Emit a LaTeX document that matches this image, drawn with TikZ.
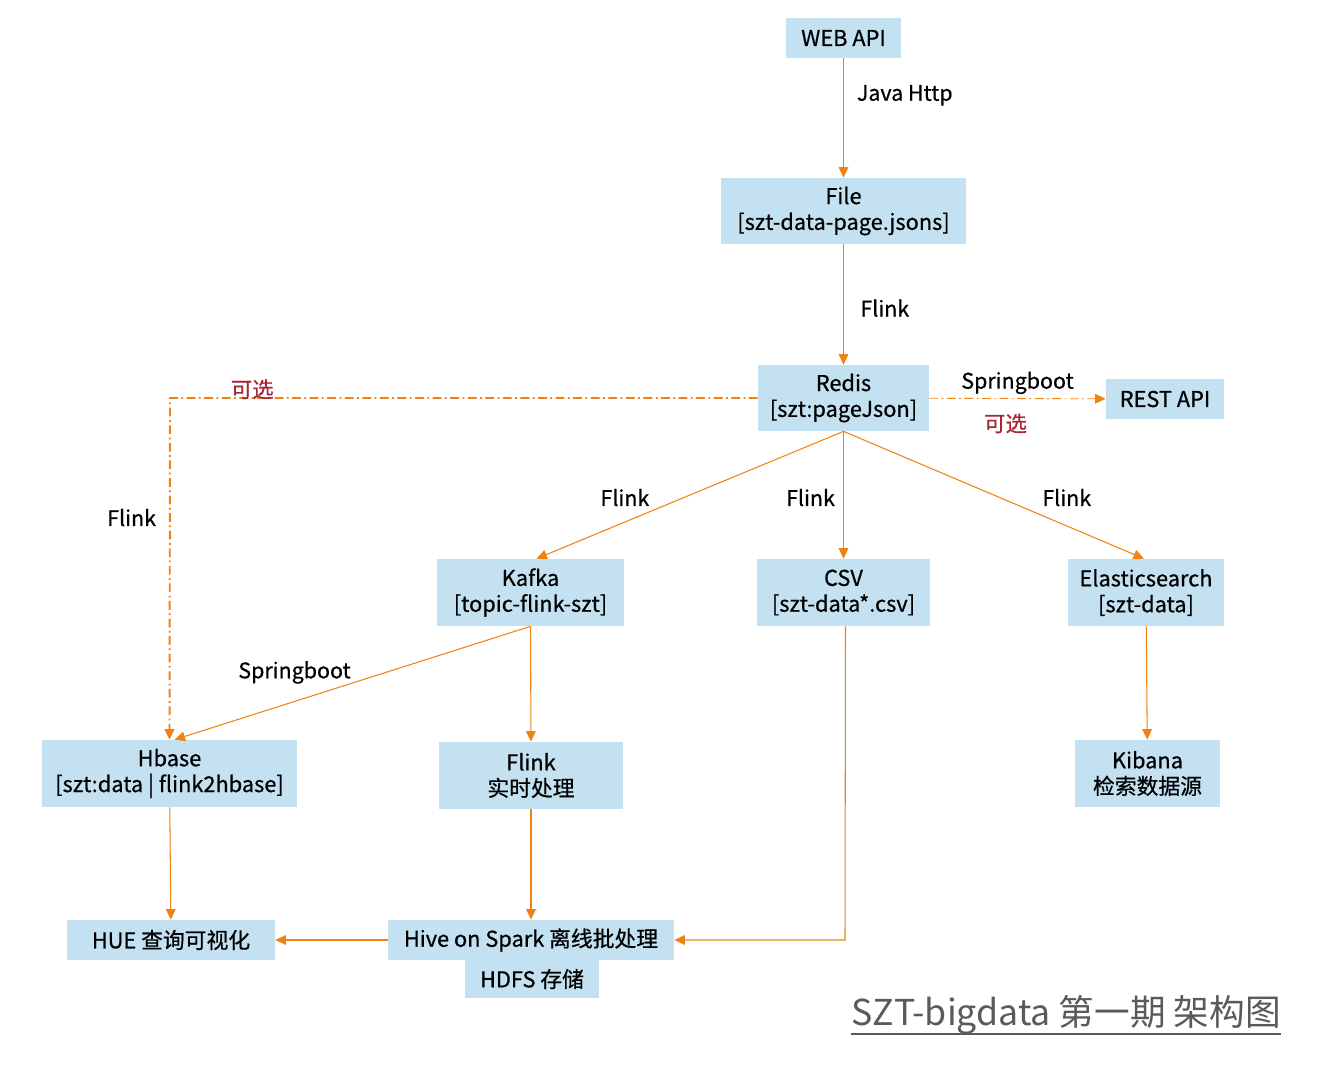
\documentclass[tikz,border=0pt]{standalone}
\usepackage{fontspec}
\setmainfont{Noto Sans CJK SC}[UprightFeatures={FakeBold=0.6}]
\newfontfamily\titlefont{Noto Sans CJK SC}
\usepackage{tikz}
\usetikzlibrary{arrows.meta}

\definecolor{boxblue}{RGB}{196,225,242}
\definecolor{flow}{RGB}{240,130,20}
\definecolor{opt}{RGB}{165,40,55}
\definecolor{titlegray}{RGB}{90,90,90}

\tikzset{
  box/.style={fill=boxblue,align=center,inner sep=0pt,font=\fontsize{12.4}{14.7}\selectfont},
  lbl/.style={font=\fontsize{12.2}{14}\selectfont},
  optlbl/.style={font=\fontsize{12.2}{14}\selectfont,text=opt},
  link/.style={draw=flow,->,line width=0.6pt},
  optlink/.style={draw=flow,->,dash pattern=on 5pt off 2pt on 1pt off 2pt}
}

\begin{document}
\begin{tikzpicture}[x=0.02cm,y=-0.02cm,>={Triangle[length=6pt,width=5.5pt]}]
      \useasboundingbox (0,0) rectangle (1333,1080);

      \node[box,minimum width=2.3cm,minimum height=0.8cm] (web) at (843.5,38) {WEB API};
      \node[box,minimum width=4.9cm,minimum height=1.32cm] (file) at (843.5,211) {File\\{[szt-data-page.jsons]}};
      \node[box,minimum width=3.42cm,minimum height=1.32cm] (redis) at (843.5,398) {Redis\\{[szt:pageJson]}};
      \node[box,minimum width=2.36cm,minimum height=0.8cm] (rest) at (1165,399) {REST API};
      \node[box,minimum width=3.74cm,minimum height=1.34cm] (kafka) at (530.5,592.5) {Kafka\\{[topic-flink-szt]}};
      \node[box,minimum width=3.46cm,minimum height=1.34cm] (csv) at (843.5,592.5) {CSV\\{[szt-data*.csv]}};
      \node[box,minimum width=3.12cm,minimum height=1.34cm] (es) at (1146,592.5) {Elasticsearch\\{[szt-data]}};
      \node[box,minimum width=5.1cm,minimum height=1.34cm] (hbase) at (169.5,773.5) {Hbase\\{[szt:data | flink2hbase]}};
      \node[box,minimum width=3.68cm,minimum height=1.34cm] (rt) at (531,775.5) {Flink\\实时处理};
      \node[box,minimum width=2.9cm,minimum height=1.34cm] (kibana) at (1147.5,773.5) {Kibana\\检索数据源};
      \node[box,minimum width=4.16cm,minimum height=0.8cm] (hue) at (171,940) {HUE 查询可视化};
      \node[box,minimum width=5.72cm,minimum height=0.8cm] (hive) at (531,940) {Hive on Spark 离线批处理};
      \node[box,minimum width=2.68cm,minimum height=0.76cm] (hdfs) at (532,979) {HDFS 存储};
      \node[font=\titlefont\fontsize{20.3}{24}\selectfont,text=titlegray,inner sep=0pt] (title) at (1066,1015) {SZT-bigdata 第一期 架构图};
      \draw[titlegray,line width=1.1pt] ([yshift=-4.5pt]title.base west) -- ([yshift=-4.5pt]title.base east);

      \coordinate (corner) at (170,398);
      \coordinate (bend) at (845,940);

      \draw[link] (web) -- node[lbl,right,xshift=4pt,pos=0.31] {Java Http} (file);
      \draw[link] (file) -- node[lbl,right,xshift=6pt,pos=0.53] {Flink} (redis);
      \draw[optlink,line width=0.5pt] (redis) -- node[lbl,above,yshift=-1pt] {Springboot} node[optlbl,below,yshift=-5pt,xshift=-0.24cm] {可选} (rest);
      \draw[optlink,line width=1.1pt] (redis.west) -- node[optlbl,pos=0.86,above,yshift=-4.5pt] {可选} (corner) -- node[lbl,left,xshift=-4pt,pos=0.35] {Flink} (hbase.north);
      \draw[link] (redis.south) -- node[lbl,pos=0.52,xshift=-1.18cm] {Flink} ([xshift=0.12cm]kafka.north);
      \draw[link] (redis.south) -- node[lbl,pos=0.52,xshift=-0.66cm] {Flink} (csv);
      \draw[link] (redis.south) -- node[lbl,pos=0.52,xshift=1.34cm] {Flink} ([xshift=-0.04cm]es.north);
      \draw[link] (kafka.south) -- node[lbl,above,xshift=-33pt,yshift=-4pt] {Springboot} ([xshift=0.1cm]hbase.north);
      \draw[link] (kafka) -- (rt);
      \draw[link] (es) -- (kibana);
      \draw[link] (hbase) -- (hue);
      \draw[link] (rt) -- (hive);
      \draw[link] ([xshift=0.04cm]csv.south) -- (bend) -- (hive.east);
      \draw[link] (hive) -- (hue);
    \end{tikzpicture}
\end{document}
